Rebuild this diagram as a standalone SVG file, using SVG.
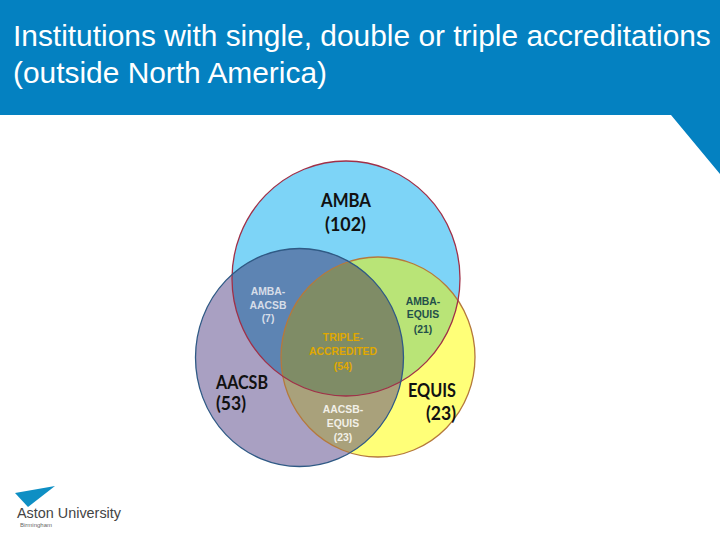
<svg xmlns="http://www.w3.org/2000/svg" width="720" height="540" viewBox="0 0 720 540">
<style>
.title{font:29.9px "Liberation Sans",Arial,sans-serif;fill:#fff}
.big{font:bold 18.5px Lato,"Liberation Sans",sans-serif;fill:#111}
.small{font:bold 10.4px "Liberation Sans",Arial,sans-serif;text-anchor:middle}
.mid{text-anchor:middle}
</style>
<defs>
<clipPath id="cA"><ellipse cx="346" cy="278.5" rx="114" ry="117.5"/></clipPath>
<clipPath id="cB"><ellipse cx="299.5" cy="357.5" rx="104" ry="109"/></clipPath>
<clipPath id="cE"><ellipse cx="378" cy="357" rx="97" ry="100"/></clipPath>
</defs>
<rect width="720" height="540" fill="#fff"/>
<g id="header">
<polygon points="0,0 720,0 720,174 671,115 0,115" fill="#0481c1"/>
<text class="title" x="13" y="46">Institutions with single, double or triple accreditations</text>
<text class="title" x="13" y="83">(outside North America)</text>
</g>
<g id="venn-fills">
<ellipse cx="346" cy="278.5" rx="114" ry="117.5" fill="#7dd4f7"/>
<ellipse cx="378" cy="357" rx="97" ry="100" fill="#ffff78"/>
<ellipse cx="299.5" cy="357.5" rx="104" ry="109" fill="#a9a0c2"/>
<g clip-path="url(#cA)"><ellipse cx="378" cy="357" rx="97" ry="100" fill="#b9e477"/></g>
<g clip-path="url(#cA)"><ellipse cx="299.5" cy="357.5" rx="104" ry="109" fill="#5d84b3"/></g>
<g clip-path="url(#cE)"><ellipse cx="299.5" cy="357.5" rx="104" ry="109" fill="#a9a17b"/></g>
<g clip-path="url(#cE)"><g clip-path="url(#cB)"><ellipse cx="346" cy="278.5" rx="114" ry="117.5" fill="#7f8c66"/></g></g>
</g>
<g id="equis">
<ellipse cx="378" cy="357" rx="97" ry="100" fill="none" stroke="#b5793c" stroke-width="1.3"/>
<text class="big" x="408" y="397" textLength="48" lengthAdjust="spacingAndGlyphs">EQUIS</text>
<text class="big" x="426" y="420" textLength="30" lengthAdjust="spacingAndGlyphs">(23)</text>
</g>
<g id="amba">
<ellipse cx="346" cy="278.5" rx="114" ry="117.5" fill="none" stroke="#a03048" stroke-width="1.3"/>
<text class="big" x="321" y="207" textLength="50" lengthAdjust="spacingAndGlyphs">AMBA</text>
<text class="big" x="325" y="231" textLength="41" lengthAdjust="spacingAndGlyphs">(102)</text>
</g>
<g id="aacsb">
<ellipse cx="299.5" cy="357.5" rx="104" ry="109" fill="none" stroke="#2f5a85" stroke-width="1.3"/>
<text class="big" x="216" y="389" textLength="52" lengthAdjust="spacingAndGlyphs">AACSB</text>
<text class="big" x="216" y="410" textLength="30" lengthAdjust="spacingAndGlyphs">(53)</text>
</g>
<g id="amba-aacsb" fill="#d6dde8">
<text class="small" x="268" y="295">AMBA-</text>
<text class="small" x="268" y="309">AACSB</text>
<text class="small" x="268" y="322">(7)</text>
</g>
<g id="amba-equis" fill="#24504a">
<text class="small" x="423" y="305">AMBA-</text>
<text class="small" x="423" y="318">EQUIS</text>
<text class="small" x="423" y="333">(21)</text>
</g>
<g id="triple" fill="#e0a800">
<text class="small" x="343" y="341">TRIPLE-</text>
<text class="small" x="343" y="355">ACCREDITED</text>
<text class="small" x="343" y="370">(54)</text>
</g>
<g id="aacsb-equis" fill="#f2f0e8">
<text class="small" x="343" y="413">AACSB-</text>
<text class="small" x="343" y="427">EQUIS</text>
<text class="small" x="343" y="441">(23)</text>
</g>
<g id="logo">
<polygon points="15,493 55,486 28,507" fill="#0e8fc4"/>
<text x="17" y="518" font-family="'Liberation Sans',Arial,sans-serif" font-size="14.4" fill="#444">Aston University</text>
<text x="20" y="527" font-family="'Liberation Sans',Arial,sans-serif" font-size="6" fill="#666">Birmingham</text>
</g>
</svg>
